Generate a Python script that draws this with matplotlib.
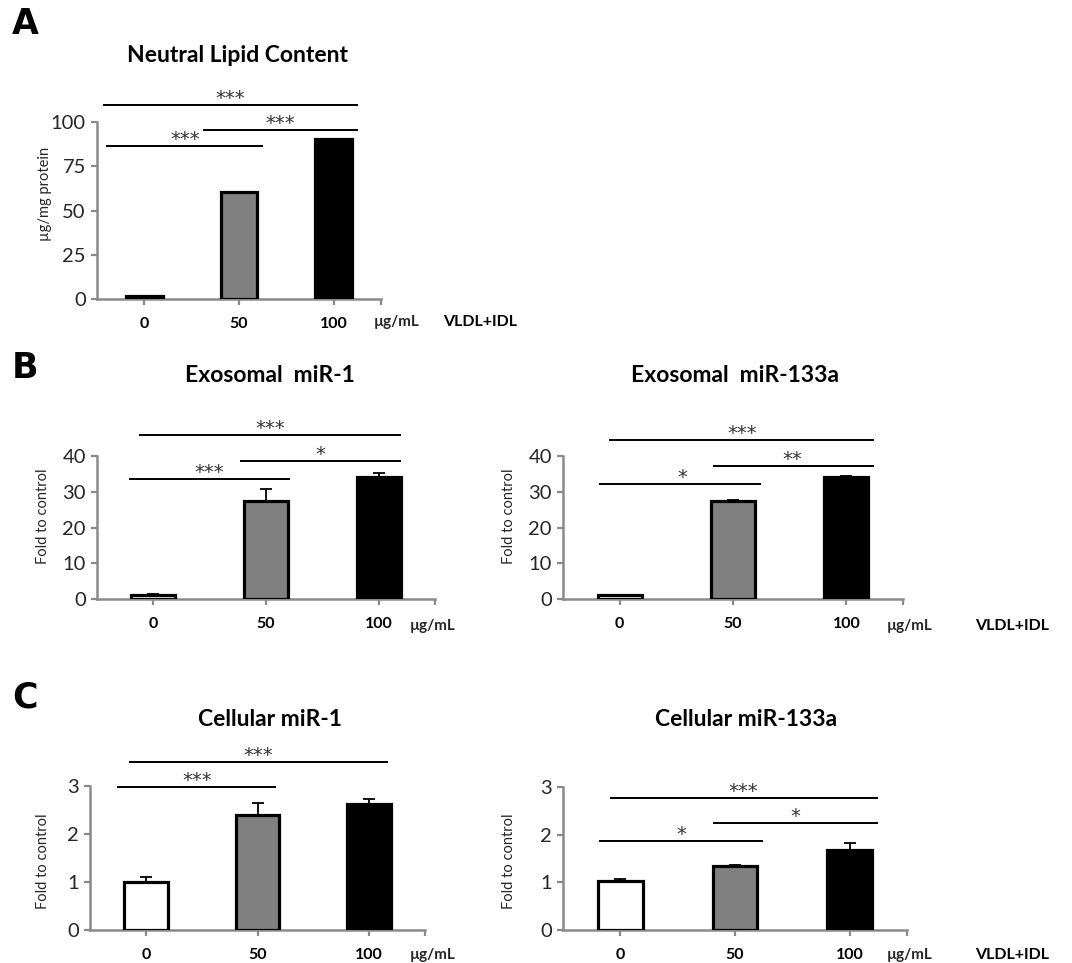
import matplotlib
matplotlib.use('Agg')
import matplotlib.pyplot as plt

plt.rcParams['font.family'] = ['Lato', 'DejaVu Sans']

# ---------------- data ----------------
categories = ['0', '50', '100']
bar_colors = ['white', '#808080', 'black']

lipid = [1.5, 60.5, 90.5]

exo_mir1 = [1.0, 27.4, 34.1]
exo_mir1_err = [0.3, 3.4, 1.1]

exo_mir133a = [1.0, 27.4, 34.1]
exo_mir133a_err = [0.1, 0.4, 0.3]

cell_mir1 = [1.0, 2.40, 2.62]
cell_mir1_err = [0.1, 0.25, 0.11]

cell_mir133a = [1.02, 1.34, 1.67]
cell_mir133a_err = [0.05, 0.03, 0.15]

# significance brackets: (x_start, x_end, y, label, label_x)
sig_lipid = [(-0.44, 2.26, 109.6, '***', 0.91),
             (0.62, 2.26, 95.5, '***', 1.43),
             (-0.40, 1.25, 86.4, '***', 0.43)]
sig_exo_mir1 = [(-0.13, 2.20, 45.9, '***', 1.04),
                (0.77, 2.20, 38.6, '*', 1.48),
                (-0.22, 1.21, 33.6, '***', 0.50)]
sig_exo_mir133a = [(-0.09, 2.24, 44.5, '***', 1.08),
                   (0.82, 2.24, 37.2, '**', 1.52),
                   (-0.18, 1.25, 32.2, '*', 0.55)]
sig_cell_mir1 = [(-0.15, 2.17, 3.5, '***', 1.01),
                 (-0.26, 1.17, 2.98, '***', 0.46)]
sig_cell_mir133a = [(-0.09, 2.25, 2.77, '***', 1.07),
                    (0.81, 2.25, 2.24, '*', 1.53),
                    (-0.19, 1.24, 1.87, '*', 0.53)]

# ---------------- figure ----------------
W, H = 1072, 963
fig = plt.figure(figsize=(W / 100, H / 100), dpi=100)
SPINE = '#8a8a8a'
TXT = '#262626'


def ax_at(l, r, t, b):
    return fig.add_axes([l / W, 1 - b / H, (r - l) / W, (b - t) / H])


def panel(ax, vals, errs, ymax, yticks, sigs):
    x = list(range(len(categories)))
    ax.bar(x, vals, width=0.39, color=bar_colors, edgecolor='black',
           linewidth=2.3, zorder=3)
    if errs is not None:
        ax.errorbar(x, vals, yerr=[[0] * len(vals), errs], fmt='none',
                    ecolor='black', elinewidth=1.3, capsize=4, capthick=1.3,
                    zorder=2)
    ax.set_xlim(-0.5, 2.5)
    ax.set_ylim(0, ymax)
    ax.set_yticks(yticks)
    ax.set_yticklabels([str(v) for v in yticks], fontsize=14.5, color=TXT)
    ax.set_xticks(x)
    ax.set_xticklabels(categories, fontsize=11.5, fontweight='bold', color='black')
    ax.set_xticks([2.5], minor=True)
    for s in ['top', 'right']:
        ax.spines[s].set_visible(False)
    for s in ['left', 'bottom']:
        ax.spines[s].set_color(SPINE)
        ax.spines[s].set_linewidth(1.8)
    ax.tick_params(axis='y', direction='out', length=4, width=1.6,
                   color=SPINE, pad=4)
    ax.tick_params(axis='x', which='both', direction='out', length=4,
                   width=1.6, color=SPINE, pad=9)
    for (x1, x2, y, lab, lx) in sigs:
        ax.plot([x1, x2], [y, y], color='black', lw=1.4, clip_on=False,
                solid_capstyle='butt')
        ax.annotate(lab, (lx, y), xytext=(0, -2), textcoords='offset points',
                    ha='center', va='bottom', fontsize=14, color='#333333',
                    family='DejaVu Sans', annotation_clip=False)


TITLE_FS = 16.5
YL_FS = 10.5

# Panel A
axA = ax_at(97, 381, 122, 299)
panel(axA, lipid, None, 100, [0, 25, 50, 75, 100], sig_lipid)
fig.text(237 / W, 1 - 56 / H, 'Neutral Lipid Content', ha='center',
         va='center', fontsize=TITLE_FS, fontweight='bold')
fig.text(45 / W, 1 - 194 / H, 'µg/mg protein', rotation=90, ha='center',
         va='center', fontsize=YL_FS, color=TXT)
fig.text(397 / W, 1 - 322 / H, 'µg/mL', ha='center', va='center',
         fontsize=11, fontweight='bold', color=TXT)
fig.text(480 / W, 1 - 322 / H, 'VLDL+IDL', ha='center', va='center',
         fontsize=11.5, fontweight='bold')

# Panel B left
axB1 = ax_at(97, 435, 456, 599)
panel(axB1, exo_mir1, exo_mir1_err, 40, [0, 10, 20, 30, 40], sig_exo_mir1)
fig.text(270 / W, 1 - 376 / H, 'Exosomal  miR-1', ha='center', va='center',
         fontsize=TITLE_FS, fontweight='bold')
fig.text(43 / W, 1 - 516 / H, 'Fold to control', rotation=90, ha='center',
         va='center', fontsize=YL_FS, color=TXT)
fig.text(433 / W, 1 - 626 / H, 'µg/mL', ha='center', va='center',
         fontsize=11, fontweight='bold', color=TXT)

# Panel B right
axB2 = ax_at(563, 903, 456, 599)
panel(axB2, exo_mir133a, exo_mir133a_err, 40, [0, 10, 20, 30, 40],
      sig_exo_mir133a)
fig.text(735 / W, 1 - 376 / H, 'Exosomal  miR-133a', ha='center',
         va='center', fontsize=TITLE_FS, fontweight='bold')
fig.text(509 / W, 1 - 516 / H, 'Fold to control', rotation=90, ha='center',
         va='center', fontsize=YL_FS, color=TXT)
fig.text(910 / W, 1 - 626 / H, 'µg/mL', ha='center', va='center',
         fontsize=11, fontweight='bold', color=TXT)
fig.text(1012 / W, 1 - 626 / H, 'VLDL+IDL', ha='center', va='center',
         fontsize=11.5, fontweight='bold')

# Panel C left
axC1 = ax_at(90, 425, 786, 930)
panel(axC1, cell_mir1, cell_mir1_err, 3, [0, 1, 2, 3], sig_cell_mir1)
fig.text(270 / W, 1 - 719 / H, 'Cellular miR-1', ha='center', va='center',
         fontsize=TITLE_FS, fontweight='bold')
fig.text(43 / W, 1 - 861 / H, 'Fold to control', rotation=90, ha='center',
         va='center', fontsize=YL_FS, color=TXT)
fig.text(433 / W, 1 - 955 / H, 'µg/mL', ha='center', va='center',
         fontsize=11, fontweight='bold', color=TXT)

# Panel C right
axC2 = ax_at(563, 907, 787, 930)
panel(axC2, cell_mir133a, cell_mir133a_err, 3, [0, 1, 2, 3], sig_cell_mir133a)
fig.text(746 / W, 1 - 719 / H, 'Cellular miR-133a', ha='center', va='center',
         fontsize=TITLE_FS, fontweight='bold')
fig.text(509 / W, 1 - 861 / H, 'Fold to control', rotation=90, ha='center',
         va='center', fontsize=YL_FS, color=TXT)
fig.text(910 / W, 1 - 955 / H, 'µg/mL', ha='center', va='center',
         fontsize=11, fontweight='bold', color=TXT)
fig.text(1012 / W, 1 - 955 / H, 'VLDL+IDL', ha='center', va='center',
         fontsize=11.5, fontweight='bold')

# Panel letters
for lab, yy in [('A', 24), ('B', 368), ('C', 697)]:
    fig.text(25 / W, 1 - yy / H, lab, ha='center', va='center',
             fontsize=25, fontweight='heavy', family='DejaVu Sans')

fig.savefig('out.png', dpi=100)
